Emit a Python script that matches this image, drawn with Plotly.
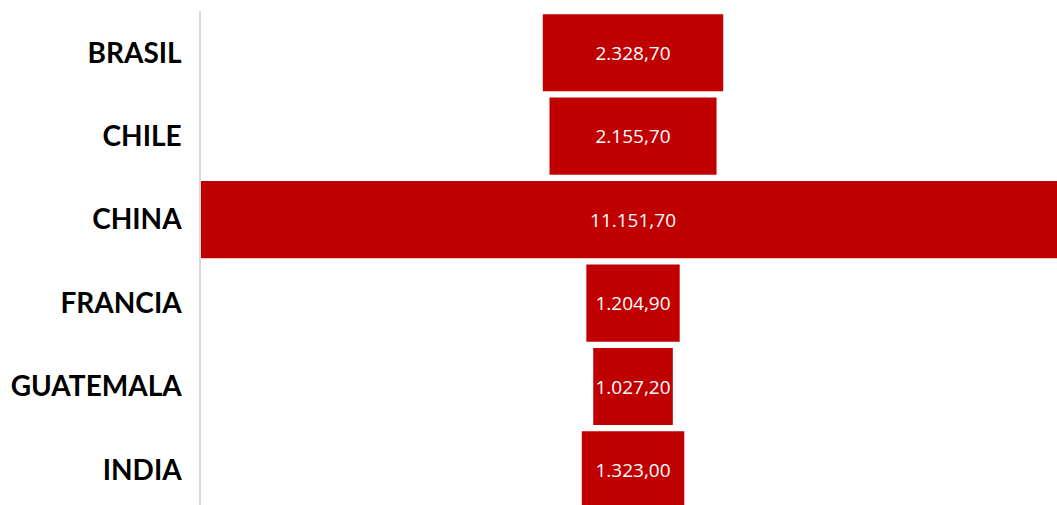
import plotly.graph_objects as go

# Data
paises = ["BRASIL", "CHILE", "CHINA", "FRANCIA", "GUATEMALA", "INDIA"]
valores = [2328.70, 2155.70, 11151.70, 1204.90, 1027.20, 1323.00]


def formato_es(v):
    # 11151.7 -> "11.151,70"
    s = f"{v:,.2f}"
    return s.replace(",", "X").replace(".", ",").replace("X", ".")


etiquetas = [formato_es(v) for v in valores]

fig = go.Figure(
    go.Funnel(
        y=paises,
        x=valores,
        text=etiquetas,
        textinfo="text",
        textposition="inside",
        insidetextanchor="middle",
        constraintext="none",
        textfont=dict(family="Open Sans", size=19, color="white"),
        marker=dict(color="#C00000", line=dict(width=0)),
        connector=dict(visible=False),
        hoverinfo="y+text",
    )
)

fig.update_layout(
    width=1057,
    height=505,
    margin=dict(l=201, r=0, t=11, b=0),
    paper_bgcolor="white",
    plot_bgcolor="white",
    showlegend=False,
    funnelgap=0.075,
)

fig.update_xaxes(
    range=[-5575.85, 5472],
    visible=False,
    showgrid=False,
    zeroline=False,
)

fig.update_yaxes(
    range=[5.42, -0.5],
    showgrid=False,
    zeroline=False,
    showline=True,
    linecolor="#d9d9d9",
    linewidth=1.5,
    ticks="",
    ticklabelstandoff=12,
    tickfont=dict(family="Lato", size=28, color="black", weight="bold"),
)

fig.write_html("out.html")
